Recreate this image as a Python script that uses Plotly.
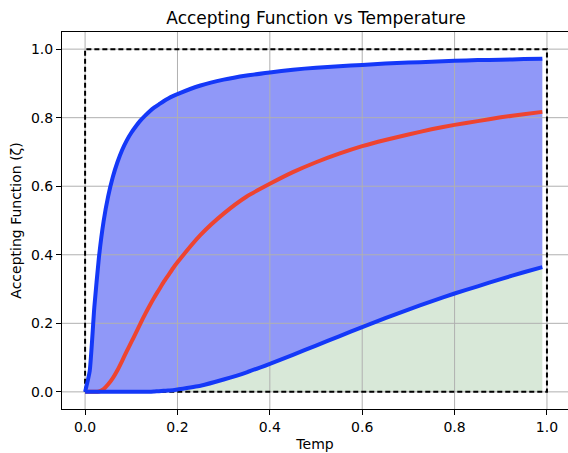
import plotly.graph_objects as go

# Temperature samples
temp = [0, 0.01, 0.02, 0.03, 0.04, 0.05, 0.06, 0.07, 0.08, 0.09, 0.10,
        0.11, 0.12, 0.13, 0.14, 0.15, 0.16, 0.17, 0.18, 0.19, 0.20,
        0.25, 0.30, 0.35, 0.40, 0.45, 0.50, 0.55, 0.60, 0.65, 0.70,
        0.75, 0.80, 0.85, 0.90, 0.95, 0.99]

# Accepting function curves
upper = [0, 0.061, 0.247, 0.393, 0.497, 0.571, 0.627, 0.670, 0.705, 0.733,
         0.756, 0.775, 0.792, 0.806, 0.819, 0.830, 0.839, 0.848, 0.856,
         0.863, 0.869, 0.894, 0.911, 0.923, 0.932, 0.940, 0.946, 0.950,
         0.954, 0.958, 0.961, 0.963, 0.966, 0.968, 0.969, 0.971, 0.972]
middle = [0, 0, 0.000, 0.001, 0.008, 0.022, 0.040, 0.063, 0.090, 0.118,
          0.145, 0.172, 0.200, 0.227, 0.252, 0.276, 0.298, 0.320, 0.340,
          0.360, 0.378, 0.458, 0.520, 0.570, 0.607, 0.641, 0.670, 0.695,
          0.717, 0.735, 0.751, 0.766, 0.779, 0.790, 0.801, 0.810, 0.817]
lower = [0, 0, 0, 0, 0, 0, 0, 0, 0, 0, 0, 0, 0, 0, 0, 0.001, 0.002, 0.003,
         0.004, 0.005, 0.007, 0.018, 0.036, 0.057, 0.082, 0.108, 0.135,
         0.162, 0.189, 0.215, 0.240, 0.264, 0.287, 0.308, 0.329, 0.349, 0.364]

# Dashed bounding box corners
box_x = [0, 0, 1, 1, 0]
box_y = [0, 1, 1, 0, 0]

x_ticks = [0.0, 0.2, 0.4, 0.6, 0.8, 1.0]
y_ticks = [0.0, 0.2, 0.4, 0.6, 0.8, 1.0]

X_RANGE = [-0.05, 1.0 + (568 - 547) / 461]
Y_RANGE = [-0.05, 1.05]

BLUE = "#1438f8"
RED = "#ee4430"
GRID = "#b0b0b0"
SM = 0.5

fig = go.Figure()

# green fill under lower curve
fig.add_trace(go.Scatter(x=temp, y=lower, mode="lines",
                         line=dict(width=0, shape="spline", smoothing=SM),
                         fill="tozeroy", fillcolor="#d8e8d8",
                         hoverinfo="skip", showlegend=False))
# blue fill between lower and upper
fig.add_trace(go.Scatter(x=temp, y=upper, mode="lines",
                         line=dict(width=0, shape="spline", smoothing=SM),
                         fill="tonexty", fillcolor="#9098f8",
                         hoverinfo="skip", showlegend=False))

# grid lines drawn above the fills (as in the reference)
gx, gy = [], []
for v in x_ticks:
    gx += [v, v, None]
    gy += [Y_RANGE[0], Y_RANGE[1], None]
for v in y_ticks:
    gx += [X_RANGE[0], X_RANGE[1], None]
    gy += [v, v, None]
fig.add_trace(go.Scatter(x=gx, y=gy, mode="lines",
                         line=dict(color=GRID, width=1),
                         hoverinfo="skip", showlegend=False))

# dashed box
fig.add_trace(go.Scatter(x=box_x, y=box_y, mode="lines",
                         line=dict(color="black", width=2, dash="5px,3px"),
                         showlegend=False))
# curves
fig.add_trace(go.Scatter(x=temp, y=middle, mode="lines",
                         line=dict(color=RED, width=4, shape="spline", smoothing=SM),
                         showlegend=False))
fig.add_trace(go.Scatter(x=temp, y=upper, mode="lines",
                         line=dict(color=BLUE, width=4, shape="spline", smoothing=SM),
                         showlegend=False))
fig.add_trace(go.Scatter(x=temp, y=lower, mode="lines",
                         line=dict(color=BLUE, width=4, shape="spline", smoothing=SM),
                         showlegend=False))

font = dict(family="DejaVu Sans", size=14, color="black")

fig.update_layout(
    width=568, height=453,
    margin=dict(l=62, r=0, t=32, b=44),
    paper_bgcolor="white", plot_bgcolor="white",
    font=font,
    title=dict(text="Accepting Function vs Temperature", x=316 / 568,
               xanchor="center", y=1 - 18 / 453, yanchor="middle",
               yref="container",
               font=dict(family="DejaVu Sans", size=17, color="black")),
    xaxis=dict(range=X_RANGE, tickvals=x_ticks,
               ticktext=[f"{v:.1f}" for v in x_ticks],
               showgrid=False, automargin=False,
               showline=True, linecolor="black", linewidth=1, mirror=True,
               ticks="outside", ticklen=5, tickcolor="black", zeroline=False,
               title=dict(text="Temp", standoff=5, font=font)),
    yaxis=dict(range=Y_RANGE, tickvals=y_ticks,
               ticktext=[f"{v:.1f}" for v in y_ticks],
               showgrid=False, automargin=False,
               showline=True, linecolor="black", linewidth=1, mirror=False,
               ticks="outside", ticklen=5, tickcolor="black", zeroline=False,
               title=dict(text="Accepting Function (ζ)", standoff=6, font=font)),
)

fig.write_html("out.html",
               config={"displayModeBar": False},
               post_script="document.body.style.margin='0';"
                           "document.body.style.overflow='hidden';")
